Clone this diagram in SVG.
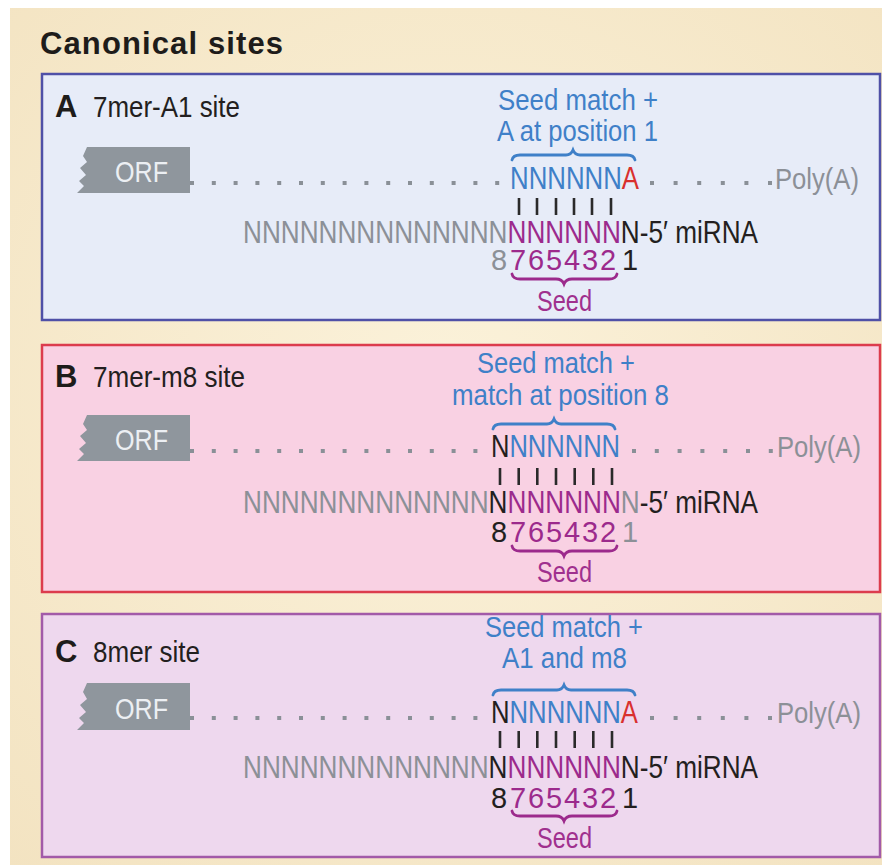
<svg xmlns="http://www.w3.org/2000/svg" width="882" height="865" viewBox="0 0 882 865">
  <defs>
    <radialGradient id="cream" cx="0.5" cy="0.45" r="0.75">
      <stop offset="0" stop-color="#fbf2da"/>
      <stop offset="1" stop-color="#f3e3c1"/>
    </radialGradient>
    <style>
      text { font-family: "Liberation Sans", Arial, Helvetica, sans-serif; }
      .title { font-size: 31px; font-weight: bold; fill: #1e1c1a; }
      .letter { font-size: 31px; font-weight: bold; fill: #1e1c1a; }
      .label { font-size: 29px; fill: #231f20; }
      .note { font-size: 29px; fill: #3f80c8; }
      .seq { font-size: 32px; }
      .num { font-size: 29px; }
      .seed { font-size: 29px; fill: #a0308e; }
      .orf { font-size: 30px; fill: #eceff3; }
      .poly { font-size: 30px; fill: #8c9097; }
      .blue { fill: #3f80c8; }
      .red { fill: #d9302e; }
      .pur { fill: #9c2a8c; }
      .gray { fill: #8c9097; }
      .blk { fill: #231f20; }
      .tag { fill: #8f969d; }
      .dots { fill: none; stroke: #8a9097; stroke-width: 4; stroke-dasharray: 4 17.8; }
      .dots2 { fill: none; stroke: #8a9097; stroke-width: 4; stroke-dasharray: 4 19.6; }
      .dots3 { fill: none; stroke: #8a9097; stroke-width: 4; stroke-dasharray: 4 18.8; }
      .bar { stroke: #2a2a2a; stroke-width: 2.6; }
      .bbrace { fill: none; stroke: #3f80c8; stroke-width: 2.8; stroke-linecap: round; }
      .pbrace { fill: none; stroke: #9c2a8c; stroke-width: 2.8; stroke-linecap: round; }
    </style>
  </defs>

  <!-- page -->
  <rect x="0" y="0" width="882" height="865" fill="#ffffff"/>
  <rect x="10" y="8" width="872" height="857" fill="url(#cream)"/>
  <text class="title" x="40" y="54" textLength="243">Canonical sites</text>

  <!-- A: 7mer-A1 site -->
  <g id="panel-a">
    <rect x="42" y="74" width="838" height="246" fill="#e7ecf8" stroke="#4f50a7" stroke-width="2.5"/>
    <text class="letter" x="55" y="117">A</text>
    <text class="label" x="93" y="117" textLength="147" lengthAdjust="spacingAndGlyphs">7mer-A1 site</text>
    <text class="note" x="498" y="110" textLength="160" lengthAdjust="spacingAndGlyphs">Seed match +</text>
    <text class="note" x="497" y="141" textLength="161" lengthAdjust="spacingAndGlyphs">A at position 1</text>
    <path class="bbrace" d="M512,160 Q513,155 520,155 L566,155 Q571,155 573,150 Q575,155 580,155 L627,155 Q634,155 635,160"/>
    <polygon class="tag" points="87,147 190,147 190,193 77,193 84,186 79,181 86,175 80,168 87,162 83,156"/>
    <text class="orf" x="115" y="182" textLength="53" lengthAdjust="spacingAndGlyphs">ORF</text>
    <path class="dots" d="M190,183 H500"/>
    <text class="seq" x="510" y="189" textLength="129" lengthAdjust="spacingAndGlyphs"><tspan class="blue">NNNNNN</tspan><tspan class="red">A</tspan></text>
    <path class="dots2" d="M650,183 H772"/>
    <text class="poly" x="775" y="189" textLength="84" lengthAdjust="spacingAndGlyphs">Poly(A)</text>
    <g>
      <line class="bar" x1="519" y1="198" x2="519" y2="215"/>
      <line class="bar" x1="537" y1="198" x2="537" y2="215"/>
      <line class="bar" x1="556" y1="198" x2="556" y2="215"/>
      <line class="bar" x1="574" y1="198" x2="574" y2="215"/>
      <line class="bar" x1="592" y1="198" x2="592" y2="215"/>
      <line class="bar" x1="611" y1="198" x2="611" y2="215"/>
    </g>
    <text class="seq" x="243" y="243" textLength="515" lengthAdjust="spacingAndGlyphs"><tspan class="gray">NNNNNNNNNNNNNN</tspan><tspan class="pur">NNNNNN</tspan><tspan class="blk">N-5′ miRNA</tspan></text>
    <text class="num" x="491 510 528 546 564 582 600 622" y="270"><tspan class="gray">8</tspan><tspan class="pur">765432</tspan><tspan class="blk">1</tspan></text>
    <path class="pbrace" d="M512,274 Q513,279 520,279 L556,279 Q562,279 564,284 Q566,279 572,279 L609,279 Q616,279 617,274"/>
    <text class="seed" x="537" y="311" textLength="55" lengthAdjust="spacingAndGlyphs">Seed</text>
  </g>

  <!-- B: 7mer-m8 site -->
  <g id="panel-b">
    <rect x="42" y="345" width="838" height="247" fill="#f9d1e3" stroke="#dc3c4d" stroke-width="2.5"/>
    <text class="letter" x="55" y="387">B</text>
    <text class="label" x="93" y="387" textLength="152" lengthAdjust="spacingAndGlyphs">7mer-m8 site</text>
    <text class="note" x="477" y="373" textLength="158" lengthAdjust="spacingAndGlyphs">Seed match +</text>
    <text class="note" x="452" y="405" textLength="217" lengthAdjust="spacingAndGlyphs">match at position 8</text>
    <path class="bbrace" d="M493,429 Q494,424 501,424 L547,424 Q552,424 554,419 Q556,424 561,424 L607,424 Q614,424 615,429"/>
    <polygon class="tag" points="87,415 190,415 190,461 77,461 84,454 79,449 86,443 80,436 87,430 83,424"/>
    <text class="orf" x="115" y="450" textLength="53" lengthAdjust="spacingAndGlyphs">ORF</text>
    <path class="dots" d="M190,451 H480"/>
    <text class="seq" x="491" y="457" textLength="129" lengthAdjust="spacingAndGlyphs"><tspan class="blk">N</tspan><tspan class="blue">NNNNNN</tspan></text>
    <path class="dots3" d="M632,451 H773"/>
    <text class="poly" x="777" y="457" textLength="84" lengthAdjust="spacingAndGlyphs">Poly(A)</text>
    <g>
      <line class="bar" x1="500" y1="468" x2="500" y2="485"/>
      <line class="bar" x1="518.7" y1="468" x2="518.7" y2="485"/>
      <line class="bar" x1="537.3" y1="468" x2="537.3" y2="485"/>
      <line class="bar" x1="556" y1="468" x2="556" y2="485"/>
      <line class="bar" x1="574.7" y1="468" x2="574.7" y2="485"/>
      <line class="bar" x1="593.3" y1="468" x2="593.3" y2="485"/>
      <line class="bar" x1="612" y1="468" x2="612" y2="485"/>
    </g>
    <text class="seq" x="243" y="513" textLength="515" lengthAdjust="spacingAndGlyphs"><tspan class="gray">NNNNNNNNNNNNN</tspan><tspan class="blk">N</tspan><tspan class="pur">NNNNNN</tspan><tspan class="gray">N</tspan><tspan class="blk">-5′ miRNA</tspan></text>
    <text class="num" x="491 510 528 546 564 582 600 622" y="542"><tspan class="blk">8</tspan><tspan class="pur">765432</tspan><tspan class="gray">1</tspan></text>
    <path class="pbrace" d="M512,546 Q513,551 520,551 L556,551 Q562,551 564,556 Q566,551 572,551 L609,551 Q616,551 617,546"/>
    <text class="seed" x="537" y="582" textLength="55" lengthAdjust="spacingAndGlyphs">Seed</text>
  </g>

  <!-- C: 8mer site -->
  <g id="panel-c">
    <rect x="42" y="614" width="838" height="243" fill="#eed8ee" stroke="#a25aa8" stroke-width="2.5"/>
    <text class="letter" x="55" y="662">C</text>
    <text class="label" x="93" y="662" textLength="107" lengthAdjust="spacingAndGlyphs">8mer site</text>
    <text class="note" x="485" y="637" textLength="158" lengthAdjust="spacingAndGlyphs">Seed match +</text>
    <text class="note" x="502" y="668" textLength="125" lengthAdjust="spacingAndGlyphs">A1 and m8</text>
    <path class="bbrace" d="M493,695 Q494,690 501,690 L557,690 Q562,690 564,685 Q566,690 571,690 L627,690 Q634,690 635,695"/>
    <polygon class="tag" points="87,683 190,683 190,730 77,730 84,723 79,718 86,712 80,705 87,699 83,692"/>
    <text class="orf" x="115" y="719" textLength="53" lengthAdjust="spacingAndGlyphs">ORF</text>
    <path class="dots" d="M190,718 H480"/>
    <text class="seq" x="491" y="723" textLength="147" lengthAdjust="spacingAndGlyphs"><tspan class="blk">N</tspan><tspan class="blue">NNNNNN</tspan><tspan class="red">A</tspan></text>
    <path class="dots2" d="M650,718 H772"/>
    <text class="poly" x="777" y="723" textLength="84" lengthAdjust="spacingAndGlyphs">Poly(A)</text>
    <g>
      <line class="bar" x1="500" y1="731" x2="500" y2="748"/>
      <line class="bar" x1="518.7" y1="731" x2="518.7" y2="748"/>
      <line class="bar" x1="537.3" y1="731" x2="537.3" y2="748"/>
      <line class="bar" x1="556" y1="731" x2="556" y2="748"/>
      <line class="bar" x1="574.7" y1="731" x2="574.7" y2="748"/>
      <line class="bar" x1="593.3" y1="731" x2="593.3" y2="748"/>
      <line class="bar" x1="612" y1="731" x2="612" y2="748"/>
    </g>
    <text class="seq" x="243" y="778" textLength="515" lengthAdjust="spacingAndGlyphs"><tspan class="gray">NNNNNNNNNNNNN</tspan><tspan class="blk">N</tspan><tspan class="pur">NNNNNN</tspan><tspan class="blk">N-5′ miRNA</tspan></text>
    <text class="num" x="491 510 528 546 564 582 600 622" y="808"><tspan class="blk">8</tspan><tspan class="pur">765432</tspan><tspan class="blk">1</tspan></text>
    <path class="pbrace" d="M512,811 Q513,816 520,816 L556,816 Q562,816 564,821 Q566,816 572,816 L609,816 Q616,816 617,811"/>
    <text class="seed" x="537" y="848" textLength="55" lengthAdjust="spacingAndGlyphs">Seed</text>
  </g>
</svg>
